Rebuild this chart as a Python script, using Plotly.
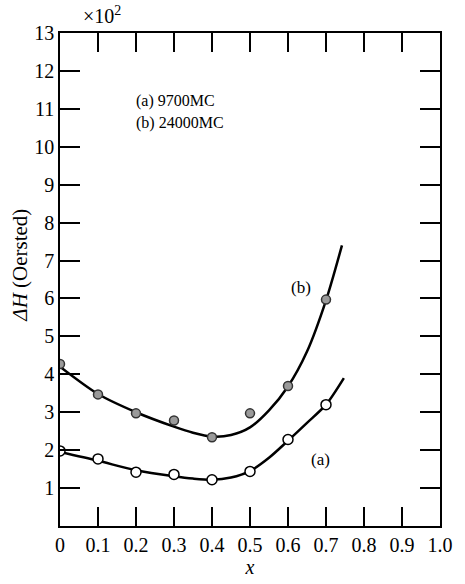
import plotly.graph_objects as go

# measured points
pts_x = [0.0, 0.1, 0.2, 0.3, 0.4, 0.5, 0.6, 0.7]
pts_b = [4.27, 3.47, 2.97, 2.78, 2.34, 2.97, 3.69, 5.97]
pts_a = [1.98, 1.77, 1.42, 1.36, 1.22, 1.44, 2.28, 3.20]

# drawn smooth curves
curve_b_x = [0.0, 0.1, 0.2, 0.3, 0.35, 0.4, 0.45, 0.5, 0.55, 0.6, 0.65, 0.7, 0.742]
curve_b_y = [4.20, 3.48, 3.00, 2.62, 2.46, 2.36, 2.40, 2.60, 3.05, 3.68, 4.60, 5.95, 7.40]
curve_a_x = [0.0, 0.1, 0.2, 0.3, 0.35, 0.4, 0.45, 0.5, 0.55, 0.6, 0.65, 0.7, 0.747]
curve_a_y = [1.95, 1.72, 1.47, 1.31, 1.25, 1.22, 1.28, 1.45, 1.80, 2.25, 2.72, 3.20, 3.90]

x_ticks = [0, 0.1, 0.2, 0.3, 0.4, 0.5, 0.6, 0.7, 0.8, 0.9, 1.0]
x_labels = ["0", "0.1", "0.2", "0.3", "0.4", "0.5", "0.6", "0.7", "0.8", "0.9", "1.0"]
y_ticks = list(range(1, 14))

FONT = "Liberation Serif"

fig = go.Figure()
fig.add_trace(go.Scatter(x=curve_b_x, y=curve_b_y, mode="lines",
                         line=dict(color="black", width=2.5, shape="spline", smoothing=0.8),
                         showlegend=False))
fig.add_trace(go.Scatter(x=curve_a_x, y=curve_a_y, mode="lines",
                         line=dict(color="black", width=2.5, shape="spline", smoothing=0.8),
                         showlegend=False))
fig.add_trace(go.Scatter(x=pts_x, y=pts_b, mode="markers",
                         marker=dict(size=9, color="#9a9a9a", line=dict(color="#333333", width=1.5)),
                         showlegend=False))
fig.add_trace(go.Scatter(x=pts_x, y=pts_a, mode="markers",
                         marker=dict(size=10, color="white", line=dict(color="black", width=1.5)),
                         showlegend=False))

axis_common = dict(showgrid=False, zeroline=False, showline=True, linecolor="black",
                   linewidth=1.5, mirror="ticks", ticks="inside", tickcolor="black",
                   tickwidth=1.5, tickfont=dict(family=FONT, size=20, color="black"))

fig.update_xaxes(range=[0, 1.0], tickvals=x_ticks, ticktext=x_labels, ticklen=19,
                 title=dict(text="<i>x</i>", font=dict(family=FONT, size=20, color="black"), standoff=2),
                 **axis_common)
fig.update_yaxes(range=[0, 13], tickvals=y_ticks, ticklen=20, **axis_common)

ann_font = dict(family=FONT, size=17, color="black")
fig.add_annotation(x=0.194, y=11.2, text="(a) 9700MC", showarrow=False, xanchor="left",
                   font=dict(family=FONT, size=16, color="black"))
fig.add_annotation(x=0.194, y=10.63, text="(b) 24000MC", showarrow=False, xanchor="left",
                   font=dict(family=FONT, size=16, color="black"))
fig.add_annotation(x=0.633, y=6.3, text="(b)", showarrow=False, font=ann_font)
fig.add_annotation(x=0.685, y=1.75, text="(a)", showarrow=False, font=ann_font)
fig.add_annotation(x=0.111, y=1.036, xref="paper", yref="paper", xanchor="center",
                   yanchor="middle", text="×10<sup>2</sup>",
                   showarrow=False, font=dict(family=FONT, size=20, color="black"))
fig.add_annotation(x=-0.104, y=0.529, xref="paper", yref="paper", xanchor="center",
                   yanchor="middle", text="<i>ΔH</i> (Oersted)", textangle=-90, showarrow=False,
                   font=dict(family=FONT, size=21, color="black"))

fig.update_layout(width=465, height=584, margin=dict(l=60, r=19, t=33, b=52),
                  paper_bgcolor="white", plot_bgcolor="white")

fig.write_html("out.html")
